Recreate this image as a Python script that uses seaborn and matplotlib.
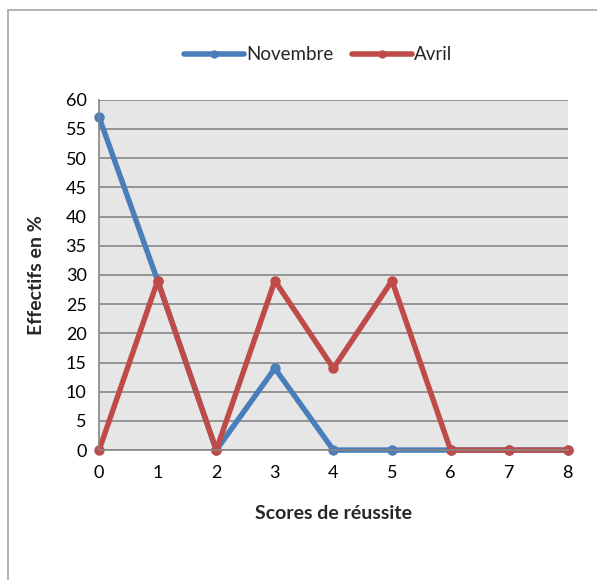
import seaborn as sns
import matplotlib.pyplot as plt
import matplotlib.patches as patches
import pandas as pd

# Data
scores = [0, 1, 2, 3, 4, 5, 6, 7, 8]
novembre = [57, 29, 0, 14, 0, 0, 0, 0, 0]
avril = [0, 29, 0, 29, 14, 29, 0, 0, 0]
series_names = ['Novembre', 'Avril']
colors = ['#4A7EBB', '#BE4B48']

df = pd.DataFrame({
    'score': scores * 2,
    'value': novembre + avril,
    'serie': [series_names[0]] * len(scores) + [series_names[1]] * len(scores),
})

sns.set_style('white')
plt.rcParams['font.family'] = ['Lato', 'DejaVu Sans']

fig = plt.figure(figsize=(5.97, 5.8), dpi=100)
ax = fig.add_axes([0.166, 0.224, 0.785, 0.604])
ax.set_facecolor('#E6E6E6')

sns.lineplot(data=df, x='score', y='value', hue='serie', palette=colors,
             marker='o', markersize=7.5, markeredgewidth=0, linewidth=3.9,
             ax=ax, legend=True)

ax.set_xlim(0, 8)
ax.set_ylim(0, 60)
ax.set_xticks(scores)
ax.set_yticks(range(0, 61, 5))
ax.yaxis.grid(True, color='#868686', linewidth=1.2)
ax.set_axisbelow(True)
for c in ax.lines:
    c.set_clip_on(False)

for s in ['top', 'right']:
    ax.spines[s].set_visible(False)
for s in ['left', 'bottom']:
    ax.spines[s].set_color('#868686')
    ax.spines[s].set_linewidth(1.2)

ax.tick_params(axis='both', labelsize=13, colors='#868686', labelcolor='black',
               length=5, width=1.2, direction='out')
ax.tick_params(axis='x', pad=6)
ax.tick_params(axis='y', pad=4)

ax.set_xlabel('Scores de réussite', fontsize=14, fontweight='bold', labelpad=17)
ax.set_ylabel('Effectifs en %', fontsize=14, fontweight='bold', labelpad=15)

leg = ax.legend(loc='center', bbox_to_anchor=(0.467, 1.129), ncol=2, frameon=False,
                fontsize=13.5, handlelength=3.2, handletextpad=0.1, columnspacing=1.0)
for h in leg.legend_handles:
    h.set_linewidth(4)
    h.set_markersize(6)

# outer chart frame
fig.patches.append(patches.Rectangle((8 / 597, -0.1), 1.2, 1 - 10 / 580 + 0.1,
                                     transform=fig.transFigure, fill=False,
                                     edgecolor='#A6A6A6', linewidth=1.2))

plt.savefig('out.png', dpi=100)
